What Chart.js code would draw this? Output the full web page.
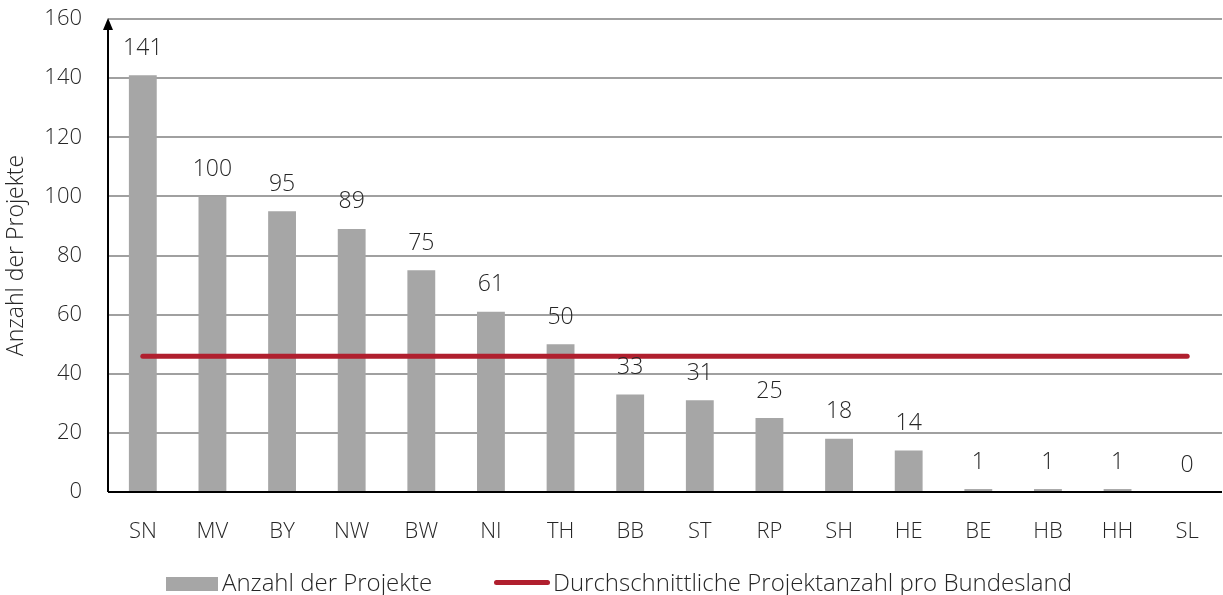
<!DOCTYPE html>
<html>
<head>
<meta charset="utf-8">
<script src="https://cdn.jsdelivr.net/npm/chart.js@4.4.0/dist/chart.umd.min.js"></script>
<style>
  html, body { margin: 0; padding: 0; background: #fff; }
  #wrap { position: relative; width: 1223px; height: 595px; }
  canvas { position: absolute; left: 0; top: 0; }
  .leg { position: absolute; font-family: "Open Sans", sans-serif; font-weight: 300; font-size: 24px; line-height: 28px; color: #262626; white-space: nowrap; }
</style>
</head>
<body>
<div id="wrap">
  <canvas id="c" width="1223" height="595"></canvas>
  <div style="position:absolute;left:166px;top:577px;width:52px;height:14px;background:#a6a6a6;"></div>
  <div class="leg" style="left:222px;top:568px;">Anzahl der Projekte</div>
  <div style="position:absolute;left:494px;top:580px;width:56px;height:5px;background:#b01f2e;border-radius:3px;"></div>
  <div class="leg" style="left:553px;top:568px;">Durchschnittliche Projektanzahl pro Bundesland</div>
</div>
<script>
const categories = ["SN","MV","BY","NW","BW","NI","TH","BB","ST","RP","SH","HE","BE","HB","HH","SL"];
const projectCounts = [141,100,95,89,75,61,50,33,31,25,18,14,1,1,1,0];
const averageValue = 45.94;
const averageLine = categories.map(() => averageValue);
const yTicks = [0,20,40,60,80,100,120,140,160];

const FONT = '"Open Sans", sans-serif';
const TXT = '#262626';

const labelPlugin = {
  id: 'labels',
  afterDatasetsDraw(chart) {
    const ctx = chart.ctx;
    const meta = chart.getDatasetMeta(0);
    ctx.save();
    ctx.font = '300 23px ' + FONT;
    ctx.fillStyle = TXT;
    ctx.textAlign = 'center';
    ctx.textBaseline = 'middle';
    meta.data.forEach((el, i) => {
      ctx.fillText(String(projectCounts[i]), el.x, el.y - 27);
    });
    ctx.restore();
  }
};

const axisPlugin = {
  id: 'axes',
  afterDraw(chart) {
    const ctx = chart.ctx;
    const a = chart.chartArea;
    ctx.save();
    ctx.strokeStyle = '#000';
    ctx.lineWidth = 2;
    ctx.beginPath();
    ctx.moveTo(a.left, a.bottom);
    ctx.lineTo(a.right, a.bottom);
    ctx.stroke();
    ctx.beginPath();
    ctx.moveTo(a.left, a.bottom);
    ctx.lineTo(a.left, a.top + 4);
    ctx.stroke();
    ctx.fillStyle = '#000';
    ctx.beginPath();
    ctx.moveTo(a.left, a.top - 1);
    ctx.lineTo(a.left - 5, a.top + 11);
    ctx.lineTo(a.left + 5, a.top + 11);
    ctx.closePath();
    ctx.fill();
    ctx.restore();
  }
};

new Chart(document.getElementById('c'), {
  data: {
    labels: categories,
    datasets: [
      {
        type: 'bar',
        label: 'Anzahl der Projekte',
        data: projectCounts,
        backgroundColor: '#a6a6a6',
        categoryPercentage: 1.0,
        barPercentage: 0.4,
        order: 2
      },
      {
        type: 'line',
        label: 'Durchschnittliche Projektanzahl pro Bundesland',
        data: averageLine,
        borderColor: '#b01f2e',
        borderWidth: 5,
        borderCapStyle: 'round',
        pointRadius: 0,
        fill: false,
        order: 1
      }
    ]
  },
  options: {
    responsive: false,
    animation: false,
    devicePixelRatio: 1,
    layout: { padding: { top: 19, right: 1, left: 0, bottom: 0 } },
    plugins: { legend: { display: false }, tooltip: { enabled: false } },
    scales: {
      x: {
        grid: { display: false },
        border: { display: false },
        ticks: { color: TXT, font: { family: FONT, size: 22, weight: 300 }, padding: 19 },
        afterFit(s) { s.height = 103; s.paddingLeft = 0; s.paddingRight = 0; }
      },
      y: {
        min: 0, max: 160,
        afterBuildTicks(s) { s.ticks = yTicks.map(v => ({ value: v })); },
        grid: { color: '#a0a0a0', lineWidth: 2, drawTicks: false },
        border: { display: false },
        ticks: { color: TXT, font: { family: FONT, size: 22, weight: 300 }, padding: 26 },
        title: { display: true, text: 'Anzahl der Projekte', color: TXT, font: { family: FONT, size: 23, weight: 300 }, padding: { top: 3, bottom: 6 } },
        afterFit(s) { s.width = 108; s.paddingTop = 0; s.paddingBottom = 0; }
      }
    }
  },
  plugins: [labelPlugin, axisPlugin]
});
</script>
</body>
</html>
